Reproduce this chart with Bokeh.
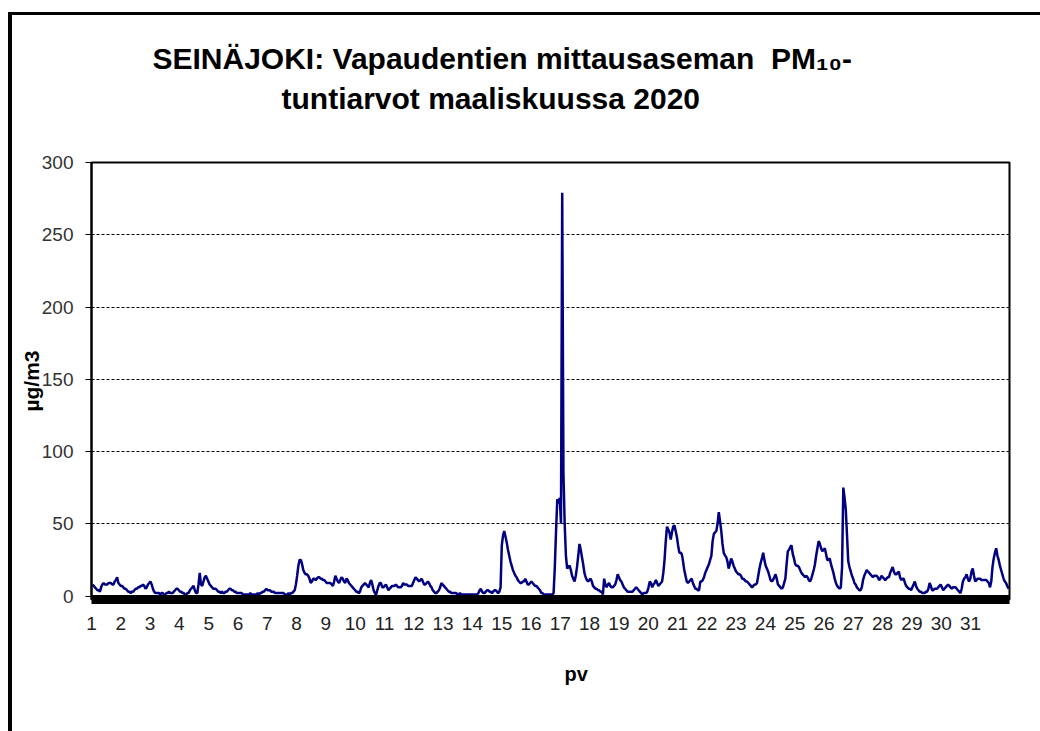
from bokeh.plotting import figure
from bokeh.models import Range1d, LinearAxis, FixedTicker, Title
from bokeh.embed import file_html
from bokeh.resources import INLINE

# Hourly PM10 values (µg/m3), March 2020, one list per day (24 h each)
day01 = [8, 7, 6, 5, 4, 4, 3, 6, 8, 9, 8, 8, 8, 9, 9, 9, 8, 8, 10, 11, 13, 9, 8, 7]
day02 = [7, 6, 5, 5, 4, 3, 3, 2, 3, 3, 4, 5, 5, 6, 6, 7, 7, 8, 7, 5, 6, 8, 9, 10]
day03 = [8, 5, 3, 2, 2, 2, 2, 1, 2, 2, 1, 1, 2, 2, 3, 2, 2, 2, 3, 4, 5, 5, 4, 3]
day04 = [3, 2, 2, 1, 1, 2, 2, 4, 5, 6, 7, 4, 2, 2, 8, 16, 8, 7, 10, 13, 14, 12, 10, 8]
day05 = [7, 6, 5, 5, 5, 4, 3, 3, 2, 3, 2, 2, 3, 3, 4, 5, 5, 4, 4, 3, 3, 2, 2, 2]
day06 = [2, 2, 1, 1, 1, 1, 1, 1, 2, 1, 1, 1, 1, 1, 2, 1, 2, 2, 3, 3, 4, 5, 4, 4]
day07 = [4, 3, 3, 3, 2, 2, 2, 2, 2, 2, 2, 2, 1, 1, 1, 2, 1, 2, 2, 3, 4, 8, 14, 21]
day08 = [25, 25, 22, 18, 16, 15, 15, 14, 12, 9, 10, 12, 12, 11, 12, 13, 13, 12, 12, 11, 11, 10, 9, 9]
day09 = [9, 9, 8, 7, 10, 14, 12, 10, 9, 11, 13, 12, 10, 9, 12, 11, 9, 8, 7, 6, 5, 4, 3, 3]
day10 = [2, 3, 6, 7, 8, 9, 8, 7, 6, 9, 11, 8, 4, 2, 1, 4, 7, 9, 9, 6, 6, 7, 8, 6]
day11 = [4, 5, 6, 7, 7, 7, 8, 7, 6, 6, 6, 7, 9, 8, 8, 8, 7, 7, 7, 7, 9, 11, 13, 12]
day12 = [11, 10, 11, 12, 10, 8, 8, 9, 10, 9, 7, 6, 4, 3, 2, 2, 3, 4, 6, 9, 8, 7, 6, 5]
day13 = [4, 3, 3, 2, 2, 2, 2, 2, 1, 1, 2, 1, 1, 1, 1, 1, 1, 1, 1, 1, 1, 1, 1, 1]
day14 = [1, 2, 4, 5, 3, 2, 2, 3, 4, 4, 3, 3, 2, 3, 4, 4, 3, 2, 3, 6, 35, 42, 45, 41]
day15 = [37, 32, 28, 24, 21, 18, 16, 14, 13, 11, 10, 9, 9, 10, 10, 12, 10, 8, 8, 9, 10, 9, 8, 7]
day16 = [7, 6, 5, 4, 2, 2, 1, 1, 1, 1, 1, 1, 1, 1, 2, 20, 45, 67, 64, 68, 50, 279, 85, 50]
day17 = [28, 19, 20, 21, 18, 14, 12, 10, 14, 20, 28, 36, 32, 27, 22, 16, 13, 11, 10, 11, 12, 10, 7, 6]
day18 = [5, 5, 4, 4, 3, 3, 1, 12, 8, 6, 8, 9, 7, 6, 6, 7, 8, 11, 15, 13, 11, 10, 8, 6]
day19 = [5, 4, 3, 3, 3, 3, 3, 4, 5, 6, 5, 4, 3, 2, 1, 2, 2, 2, 3, 6, 10, 9, 6, 8]
day20 = [9, 11, 9, 7, 8, 9, 10, 16, 25, 38, 48, 46, 44, 39, 44, 48, 49, 45, 41, 35, 30, 30, 29, 24]
day21 = [18, 14, 10, 9, 10, 11, 12, 9, 7, 5, 5, 4, 4, 10, 10, 11, 13, 16, 18, 20, 22, 25, 28, 38]
day22 = [43, 44, 45, 50, 58, 52, 45, 36, 30, 28, 27, 24, 19, 22, 26, 24, 21, 19, 17, 16, 15, 15, 14, 12]
day23 = [12, 11, 10, 10, 9, 8, 7, 6, 7, 8, 8, 9, 14, 19, 23, 26, 30, 25, 21, 19, 17, 14, 11, 10]
day24 = [11, 13, 15, 12, 8, 7, 6, 5, 6, 9, 12, 22, 31, 32, 34, 35, 29, 26, 22, 21, 21, 20, 18, 16]
day25 = [15, 14, 13, 14, 13, 11, 10, 12, 15, 18, 22, 28, 33, 38, 36, 33, 31, 32, 33, 29, 25, 25, 26, 22]
day26 = [19, 16, 12, 9, 7, 6, 5, 6, 20, 75, 68, 60, 42, 24, 20, 17, 14, 12, 9, 8, 6, 5, 4, 4]
day27 = [6, 11, 14, 16, 18, 17, 16, 15, 14, 13, 14, 14, 14, 13, 11, 12, 14, 13, 12, 11, 12, 13, 13, 16]
day28 = [18, 20, 17, 15, 15, 16, 17, 13, 11, 12, 12, 9, 7, 6, 5, 5, 4, 6, 8, 10, 7, 5, 4, 3]
day29 = [3, 2, 2, 2, 3, 3, 5, 9, 7, 4, 4, 5, 5, 5, 6, 7, 8, 6, 4, 5, 6, 7, 8, 7]
day30 = [6, 5, 6, 6, 6, 5, 4, 3, 2, 5, 10, 12, 13, 15, 12, 10, 12, 17, 19, 14, 10, 11, 12, 12]
day31 = [12, 11, 11, 11, 11, 11, 10, 9, 6, 10, 20, 26, 30, 33, 28, 25, 21, 18, 15, 12, 10, 9, 7, 5]

days = [day01, day02, day03, day04, day05, day06, day07, day08, day09, day10,
        day11, day12, day13, day14, day15, day16, day17, day18, day19, day20,
        day21, day22, day23, day24, day25, day26, day27, day28, day29, day30, day31]

pm10 = [v for d in days for v in d]
hours = list(range(len(pm10)))

day_ticks = list(range(1, 32))
y_ticks = [0, 50, 100, 150, 200, 250, 300]

title_line1 = "SEINÄJOKI: Vapaudentien mittausaseman\u00a0 PM\u2081\u2080-"
title_line2 = "tuntiarvot maaliskuussa 2020"
y_label = "µg/m3"
x_label = "pv"

FONT = "Liberation Sans"

W, H = 1040, 731
FL, FR, FT, FB = 91, 1009, 162, 599   # frame edges (canvas px)

p = figure(width=W, height=H, output_backend="svg", toolbar_location=None,
           x_range=Range1d(-0.8, 743.8), y_range=Range1d(-2.42, 300),
           min_border_left=FL, min_border_right=W - FR,
           min_border_top=FT, min_border_bottom=H - FB)
p.title.visible = False
p.background_fill_color = "white"
p.border_fill_color = None
p.outline_line_color = "black"
p.outline_line_width = 2
p.outline_line_alpha = 1
# outer black frame of the chart sheet (left and top edges)
p.styles = {
    "background-color": "white",
    "background-image": "linear-gradient(black, black), linear-gradient(black, black)",
    "background-size": "4px 719px, 1032px 3px",
    "background-position": "8px 12px, 8px 12px",
    "background-repeat": "no-repeat",
}

p.xaxis.visible = False
p.xgrid.visible = False

# y axis
yax = p.yaxis[0]
yax.ticker = FixedTicker(ticks=y_ticks)
yax.axis_line_color = "black"
yax.axis_line_width = 2
yax.major_tick_line_color = "black"
yax.major_tick_line_width = 1
yax.major_tick_out = 6
yax.major_tick_in = 0
yax.minor_tick_line_color = None
yax.major_label_text_font = FONT
yax.major_label_text_font_size = "19px"
yax.major_label_text_color = "#333333"
yax.major_label_standoff = 12
yax.axis_label = y_label
yax.axis_label_text_font = FONT
yax.axis_label_text_font_size = "21px"
yax.axis_label_text_font_style = "bold"
yax.axis_label_text_color = "black"
yax.axis_label_standoff = -4

p.ygrid.ticker = FixedTicker(ticks=y_ticks)
p.ygrid.grid_line_color = "black"
p.ygrid.grid_line_width = 1
p.ygrid.grid_line_dash = "3 2"
p.ygrid.grid_line_alpha = 1

# day axis (one label per day, 24 hourly points)
p.extra_x_ranges = {"days": Range1d(1, 1 + (FR - FL) / 29.3)}
xax = LinearAxis(x_range_name="days", ticker=FixedTicker(ticks=day_ticks))
xax.axis_line_color = "black"
xax.axis_line_width = 9
xax.major_tick_line_color = None
xax.major_tick_out = 0
xax.major_tick_in = 0
xax.minor_tick_line_color = None
xax.major_label_text_font = FONT
xax.major_label_text_font_size = "19px"
xax.major_label_text_color = "#222222"
xax.major_label_standoff = 17
p.add_layout(xax, "below")

p.add_layout(Title(text=x_label, align="left", offset=473, text_font=FONT,
                   text_font_size="20px", text_font_style="bold", text_color="black",
                   standoff=57), "below")

# titles: a blank spacer next to the frame, then line 2, then line 1
spacer = Title(text="\u00a0", text_font_size="1px", standoff=45, text_color="white")
t2 = Title(text=title_line2, align="left", offset=190, text_font=FONT,
           text_font_size="30px", text_font_style="bold", text_color="black", standoff=0)
t1 = Title(text=title_line1, align="left", offset=61, text_font=FONT,
           text_font_size="30px", text_font_style="bold", text_color="black", standoff=10)
p.add_layout(spacer, "above")
p.add_layout(t2, "above")
p.add_layout(t1, "above")

p.line(hours, pm10, line_color="#000080", line_width=2.5)

open("out.html", "w").write(file_html(p, INLINE))
